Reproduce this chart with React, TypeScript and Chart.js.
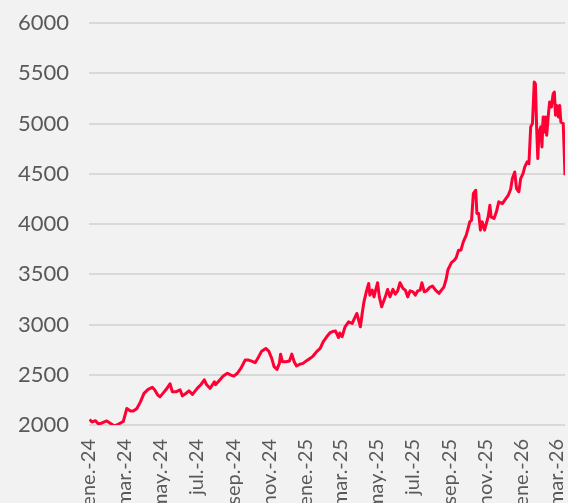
import React, { useEffect, useRef } from "react";
import { Chart, registerables } from "chart.js";

Chart.register(...registerables);

const dates: string[] = [
  "2024-01-02","2024-01-06","2024-01-12","2024-01-17","2024-01-23","2024-01-31","2024-02-06","2024-02-13","2024-02-20","2024-02-28",
  "2024-03-05","2024-03-11","2024-03-16","2024-03-22","2024-03-28","2024-04-03","2024-04-10","2024-04-17","2024-04-21","2024-04-26",
  "2024-04-30","2024-05-05","2024-05-10","2024-05-17","2024-05-21","2024-05-27","2024-06-03","2024-06-07","2024-06-12","2024-06-18",
  "2024-06-24","2024-07-02","2024-07-08","2024-07-14","2024-07-18","2024-07-24","2024-07-31","2024-08-02","2024-08-08","2024-08-15",
  "2024-08-22","2024-08-28","2024-09-02","2024-09-08","2024-09-14","2024-09-21","2024-09-27","2024-10-02","2024-10-08","2024-10-14",
  "2024-10-19","2024-10-26","2024-10-31","2024-11-05","2024-11-09","2024-11-14","2024-11-18","2024-11-20","2024-11-23","2024-11-29",
  "2024-12-05","2024-12-09","2024-12-13","2024-12-17","2024-12-23","2024-12-28","2025-01-03","2025-01-09","2025-01-14","2025-01-20",
  "2025-01-26","2025-01-31","2025-02-06","2025-02-12","2025-02-16","2025-02-21","2025-02-26","2025-02-28","2025-03-04","2025-03-09",
  "2025-03-15","2025-03-21","2025-03-25","2025-03-29","2025-04-01","2025-04-04","2025-04-07","2025-04-10","2025-04-14","2025-04-18",
  "2025-04-20","2025-04-24","2025-04-27","2025-04-29","2025-05-03","2025-05-06","2025-05-10","2025-05-13","2025-05-17","2025-05-20",
  "2025-05-24","2025-05-29","2025-06-02","2025-06-06","2025-06-10","2025-06-15","2025-06-19","2025-06-23","2025-06-27","2025-07-02",
  "2025-07-06","2025-07-10","2025-07-14","2025-07-17","2025-07-21","2025-07-25","2025-07-30","2025-08-04","2025-08-09","2025-08-15",
  "2025-08-19","2025-08-23","2025-08-27","2025-08-30","2025-09-05","2025-09-10","2025-09-13","2025-09-17","2025-09-21","2025-09-25",
  "2025-09-30","2025-10-03","2025-10-06","2025-10-09","2025-10-12","2025-10-14","2025-10-16","2025-10-18","2025-10-21","2025-10-24",
  "2025-10-27","2025-10-31","2025-11-03","2025-11-06","2025-11-09","2025-11-11","2025-11-16","2025-11-20","2025-11-24","2025-11-30",
  "2025-12-06","2025-12-10","2025-12-14","2025-12-17","2025-12-21","2025-12-24","2025-12-28","2025-12-31","2026-01-04","2026-01-07",
  "2026-01-11","2026-01-14","2026-01-17","2026-01-20","2026-01-23","2026-01-25","2026-01-27","2026-01-29","2026-01-31","2026-02-03",
  "2026-02-05","2026-02-07","2026-02-09","2026-02-11","2026-02-13","2026-02-16","2026-02-18","2026-02-21","2026-02-24","2026-02-26",
  "2026-02-28","2026-03-02","2026-03-05","2026-03-07","2026-03-09","2026-03-13","2026-03-16",
];

const prices: number[] = [
  2055,2030,2043,2010,2020,2040,2017,1990,2010,2035,
  2165,2140,2140,2165,2230,2315,2355,2375,2350,2300,
  2280,2315,2350,2410,2330,2330,2350,2290,2310,2340,
  2305,2365,2400,2450,2400,2365,2430,2400,2440,2487,
  2515,2497,2487,2515,2565,2646,2646,2636,2620,2680,
  2735,2762,2735,2663,2580,2553,2613,2705,2630,2630,
  2636,2705,2630,2587,2606,2613,2640,2663,2686,2730,
  2762,2828,2878,2920,2930,2935,2870,2915,2878,2977,
  3027,3010,3060,3110,3044,2977,3110,3226,3325,3408,
  3292,3342,3275,3325,3415,3275,3176,3226,3292,3349,
  3275,3349,3302,3335,3415,3359,3342,3275,3335,3325,
  3292,3335,3342,3415,3325,3335,3369,3382,3342,3309,
  3342,3370,3450,3545,3615,3640,3665,3740,3740,3822,
  3889,3955,4021,4038,4303,4320,4336,4104,4104,3939,
  4021,3939,4005,4071,4187,4071,4054,4121,4220,4203,
  4253,4286,4343,4452,4518,4353,4320,4452,4502,4568,
  4618,4601,4966,5000,5412,5395,4966,4651,4916,4966,
  4767,5065,4916,5065,4883,5097,5213,5164,5296,5313,
  5082,5180,5065,5180,5015,5000,4485,
];

const tickDates: string[] = [
  "2024-01-01","2024-03-01","2024-05-01","2024-07-01","2024-09-01","2024-11-01",
  "2025-01-01","2025-03-01","2025-05-01","2025-07-01","2025-09-01","2025-11-01",
  "2026-01-01","2026-03-01",
];

const tickLabels: string[] = [
  "ene.-24","mar.-24","may.-24","jul.-24","sep.-24","nov.-24",
  "ene.-25","mar.-25","may.-25","jul.-25","sep.-25","nov.-25",
  "ene.-26","mar.-26",
];

const yTicks: number[] = [2000, 2500, 3000, 3500, 4000, 4500, 5000, 5500, 6000];

const ORIGIN = Date.UTC(2024, 0, 1);
const dayOf = (s: string) => {
  const [y, m, d] = s.split("-").map(Number);
  return Math.round((Date.UTC(y, m - 1, d) - ORIGIN) / 86400000);
};

export default function App() {
  const ref = useRef<HTMLCanvasElement | null>(null);

  useEffect(() => {
    if (!ref.current) return;
    const points = dates.map((d, i) => ({ x: dayOf(d), y: prices[i] }));
    const tickDays = tickDates.map(dayOf);
    const lastDay = dayOf(dates[dates.length - 1]);
    const font = "Lato, 'Open Sans', sans-serif";

    const chart = new Chart(ref.current, {
      type: "line",
      data: {
        datasets: [
          {
            data: points,
            borderColor: "#ff0035",
            borderWidth: 3,
            pointRadius: 0,
            tension: 0,
            fill: false,
            borderJoinStyle: "round",
          },
        ],
      },
      options: {
        animation: false,
        responsive: false,
        devicePixelRatio: 1,
        layout: { padding: { top: 23, right: 3, left: 0, bottom: 0 } },
        plugins: { legend: { display: false }, tooltip: { enabled: false } },
        scales: {
          x: {
            type: "linear",
            min: 0,
            max: lastDay,
            grid: { display: false, drawTicks: false },
            border: { display: false },
            afterBuildTicks: (scale: any) => {
              scale.ticks = tickDays.map((v) => ({ value: v }));
            },
            afterFit: (scale: any) => {
              scale.height = 78;
              scale.paddingLeft = 0;
              scale.paddingRight = 0;
            },
            ticks: {
              autoSkip: false,
              minRotation: 90,
              maxRotation: 90,
              padding: 14,
              color: "#595959",
              font: { family: font, size: 20 },
              callback: (v: any) => {
                const i = tickDays.indexOf(Number(v));
                return i >= 0 ? tickLabels[i] : "";
              },
            },
          },
          y: {
            type: "linear",
            min: yTicks[0],
            max: yTicks[yTicks.length - 1],
            afterBuildTicks: (scale: any) => {
              scale.ticks = yTicks.map((v) => ({ value: v }));
            },
            afterFit: (scale: any) => {
              scale.width = 89;
              scale.paddingTop = 0;
              scale.paddingBottom = 0;
            },
            grid: { color: "#d9d9d9", lineWidth: 2, drawTicks: false },
            border: { display: false },
            ticks: {
              padding: 20,
              color: "#595959",
              font: { family: font, size: 22 },
              callback: (v: any) => String(v),
            },
          },
        },
      },
    });
    return () => chart.destroy();
  }, []);

  return (
    <div
      style={{
        position: "absolute",
        left: 0,
        top: 0,
        width: 568,
        height: 503,
        background: "#f2f2f2",
        overflow: "hidden",
      }}
    >
      <canvas ref={ref} width={568} height={503} style={{ display: "block", background: "#f2f2f2" }} />
    </div>
  );
}
